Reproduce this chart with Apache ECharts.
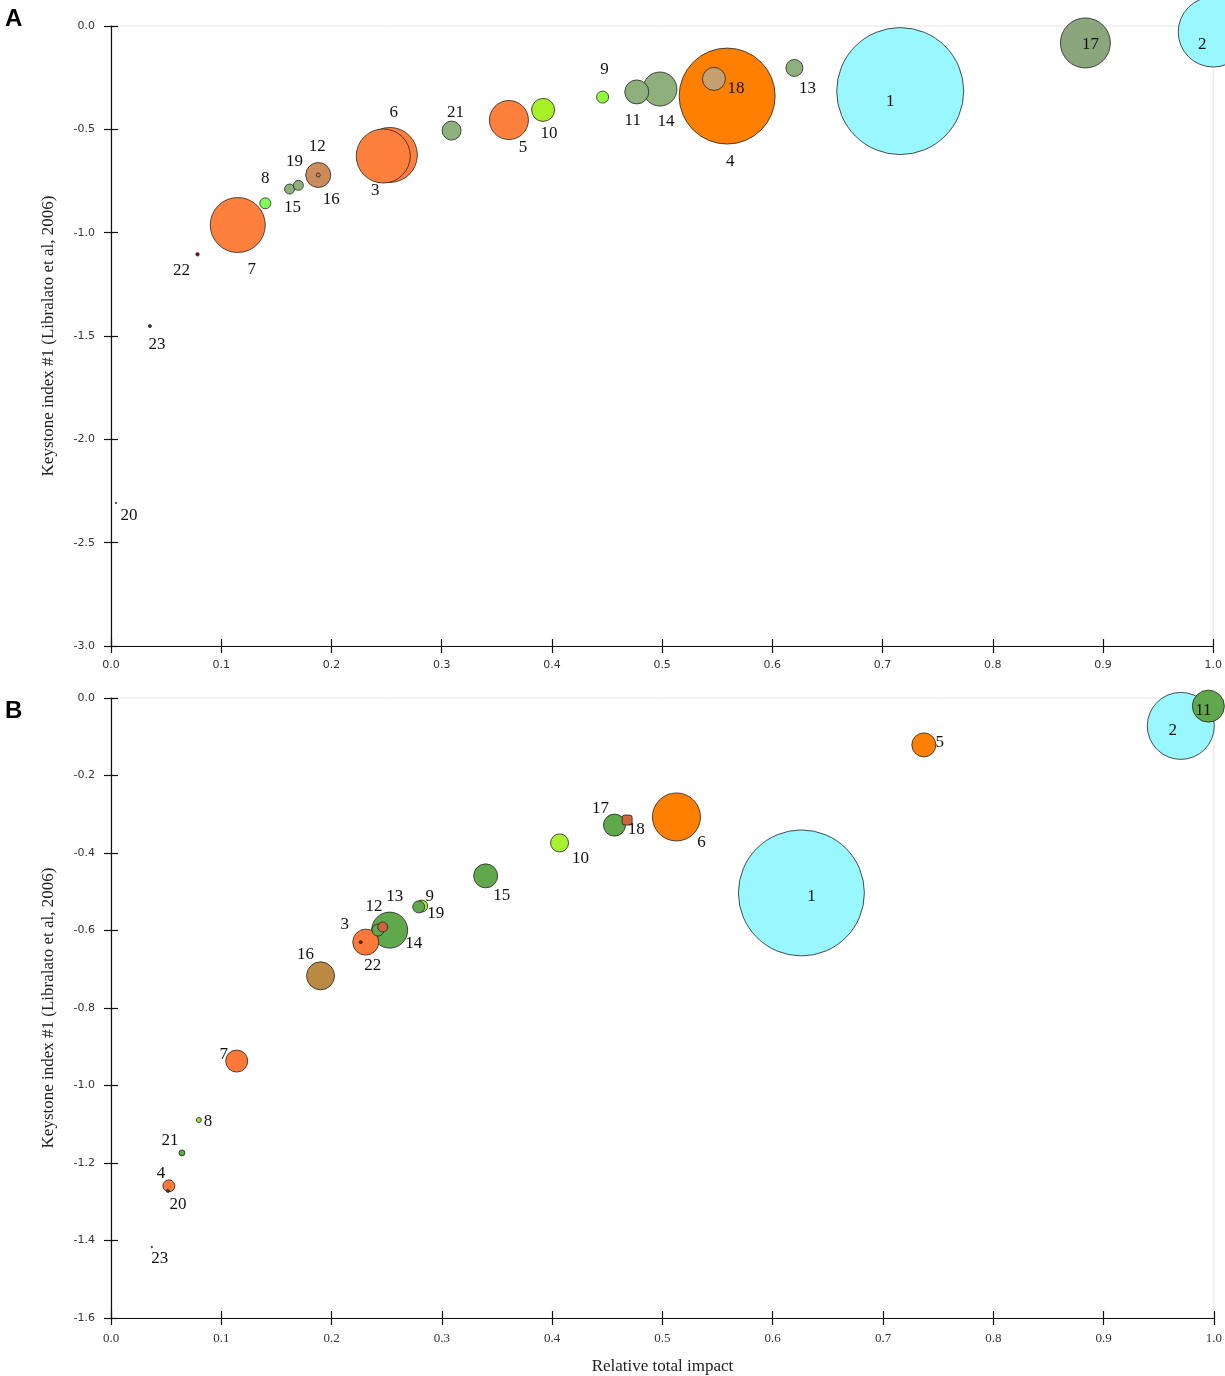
<!DOCTYPE html>
<html>
<head>
<meta charset="utf-8">
<script src="https://cdn.jsdelivr.net/npm/echarts@6/dist/echarts.min.js"></script>
<style>
  html, body { margin: 0; padding: 0; background: #fff; }
  #chart { width: 1225px; height: 1376px; }
</style>
</head>
<body>
<div id="chart"></div>
<script>
// species / functional group ids
const groups = ['1','2','3','4','5','6','7','8','9','10','11','12','13','14','15','16','17','18','19','20','21','22','23']

// panel A
const impactA = [0.716, 1.0, 0.247, 0.559, 0.361, 0.253, 0.115, 0.140, 0.446, 0.392, 0.477, 0.188, 0.620, 0.498, 0.162, 0.188, 0.884, 0.547, 0.170, 0.0045, 0.309, 0.0785, 0.0353]
const keystoneA = [-0.315, -0.029, -0.629, -0.339, -0.455, -0.624, -0.963, -0.858, -0.344, -0.406, -0.319, -0.721, -0.203, -0.305, -0.789, -0.721, -0.082, -0.256, -0.771, -2.308, -0.506, -1.105, -1.452]
const biomassA = [1.0, 0.304, 0.181, 0.571, 0.0943, 0.1875, 0.1875, 0.0075, 0.0089, 0.0328, 0.0357, 0.001, 0.0179, 0.0717, 0.0062, 0.0388, 0.155, 0.0328, 0.0062, 0.00014, 0.0224, 0.00056, 0.00056]

// panel B
const impactB = [0.626, 0.970, 0.2264, 0.0525, 0.737, 0.5127, 0.114, 0.0797, 0.2817, 0.4067, 0.995, 0.242, 0.2464, 0.2527, 0.3397, 0.190, 0.4565, 0.468, 0.279, 0.0516, 0.0643, 0.231, 0.037]
const keystoneB = [-0.503, -0.072, -0.630, -1.259, -0.121, -0.307, -0.937, -1.089, -0.537, -0.374, -0.021, -0.599, -0.591, -0.599, -0.459, -0.717, -0.328, -0.315, -0.539, -1.272, -1.174, -0.630, -1.417]
const biomassB = [0.984, 0.278, 0.00056, 0.0089, 0.0357, 0.143, 0.030, 0.00155, 0.0089, 0.0201, 0.0635, 0.0089, 0.0062, 0.0803, 0.0357, 0.0486, 0.030, 0.0062, 0.0089, 0.00056, 0.0022, 0.0419, 0.00014]

const ticksA = [0, -0.5, -1.0, -1.5, -2.0, -2.5, -3.0]
const ticksB = [0, -0.2, -0.4, -0.6, -0.8, -1.0, -1.2, -1.4, -1.6]

// styling
const colorsA = ['#99F7FF','#99F7FF','#FF803C','#FF8000','#FF803C','#FF803C','#FF803C','#80FF5A','#90FF40','#A8F028','#8DB07C','#C88A58','#8DB07C','#8DB07C','#8DB07C','#CC8C5C','#8BA57C','#C8A070','#8DB07C','#888888','#8DB07C','#7A1010','#8B1A1A']
const colorsB = ['#99F7FF','#99F7FF','#552222','#FF7A3A','#FF8000','#FF8000','#FF7A3A','#A8E030','#A8F030','#A8F030','#5FA84C','#5FA84C','#D0643C','#5FA84C','#5FA84C','#BA8A42','#5FA84C','#D0643C','#5FA84C','#444444','#5FA84C','#FF7A3A','#666666']
const nudgeA = [[-10,10],[-11,13],[-8,35],[3,65],[14,27],[4,-42],[14,45],[0,-25],[2,-28],[6,24],[-4,29],[-1,-28],[13,21],[6,32],[3,18],[13,25],[5,2],[22,10],[-4,-24],[13,13],[4,-18],[-16,16],[7,18]]
const nudgeB = [[10,4],[-8,5],[-16,-18],[-8,-12],[16,-2],[25,26],[-13,-7],[9,2],[8,-10],[21,16],[-5,4],[-4,-24],[12,-30],[24,13],[16,20],[-15,-21],[-14,-17],[9,9],[17,7],[10,14],[-12,-12],[7,23],[8,11]]
const squaresA = ['22']
const squaresB = ['18']
const maxDiameter = 127

function buildData(xs, ys, bs, colors, nudge, squares) {
  const items = groups.map((g, i) => ({
    name: g,
    value: [xs[i], ys[i], bs[i]],
    symbol: squares.includes(g) ? 'roundRect' : 'circle',
    symbolSize: Math.max(1.5, Math.sqrt(bs[i]) * maxDiameter),
    itemStyle: { color: colors[i] },
    label: { offset: nudge[i] }
  }))
  // big bubbles first so small ones sit on top
  return items.sort((a, b) => b.value[2] - a.value[2])
}

const tickFont = { fontFamily: 'DejaVu Sans', fontSize: 11, color: '#333' }
const serif = 'Liberation Serif'
const axisInk = { color: '#111', width: 1.2 }

function yAxes(gridIndex, min, interval) {
  const base = {
    gridIndex, type: 'value', min, max: 0, interval,
    splitLine: { show: false }
  }
  return [
    Object.assign({}, base, {
      name: 'Keystone index #1 (Libralato et al, 2006)',
      nameLocation: 'middle', nameGap: 54,
      nameTextStyle: { fontFamily: serif, fontSize: 17, color: '#222' },
      axisLine: { show: true, onZero: false, lineStyle: axisInk },
      axisTick: { show: true, length: 7, lineStyle: axisInk },
      axisLabel: Object.assign({ margin: 16, formatter: v => v.toFixed(1) }, tickFont)
    }),
    Object.assign({}, base, {
      position: 'left',
      axisLine: { show: false, onZero: false },
      axisTick: { show: true, inside: true, length: 7, lineStyle: axisInk },
      axisLabel: { show: false }
    })
  ]
}

function xAxes(gridIndex, withName, labelFont) {
  const base = {
    gridIndex, type: 'value', min: 0, max: 1, interval: 0.1,
    position: 'bottom',
    splitLine: { show: false }
  }
  const main = Object.assign({}, base, {
    axisLine: { show: true, onZero: false, lineStyle: axisInk },
    axisTick: { show: true, length: 7, lineStyle: axisInk },
    axisLabel: Object.assign({ margin: 14, formatter: v => v.toFixed(1) }, labelFont)
  })
  if (withName) {
    main.name = 'Relative total impact'
    main.nameLocation = 'middle'
    main.nameGap = 40
    main.nameTextStyle = { fontFamily: serif, fontSize: 17, color: '#222' }
  }
  return [main, Object.assign({}, base, {
    axisLine: { show: false, onZero: false },
    axisTick: { show: true, inside: true, length: 7, lineStyle: axisInk },
    axisLabel: { show: false }
  })]
}

function bubbleSeries(xi, yi, data) {
  return {
    type: 'scatter', xAxisIndex: xi, yAxisIndex: yi, clip: true,
    data,
    itemStyle: { borderColor: '#222', borderWidth: 0.8, opacity: 1 },
    label: {
      show: true, position: 'inside', formatter: p => p.name,
      fontFamily: serif, fontSize: 17, color: '#111'
    },
    emphasis: { disabled: true }
  }
}

const chart = echarts.init(document.getElementById('chart'))
chart.setOption({
  backgroundColor: '#fff',
  animation: false,
  title: [
    { text: 'A', left: 0, top: 2, textStyle: { fontFamily: 'Liberation Sans', fontSize: 24, fontWeight: 'bold', color: '#000' } },
    { text: 'B', left: 0, top: 694, textStyle: { fontFamily: 'Liberation Sans', fontSize: 24, fontWeight: 'bold', color: '#000' } }
  ],
  grid: [
    { left: 111, top: 26, width: 1104, height: 620, show: true, borderColor: '#e6e6e6', borderWidth: 1 },
    { left: 111, top: 698, width: 1104, height: 620, show: true, borderColor: '#e6e6e6', borderWidth: 1 }
  ],
  xAxis: [
    ...xAxes(0, false, tickFont),
    ...xAxes(1, true, { fontFamily: serif, fontSize: 13, color: '#333' })
  ],
  yAxis: [
    ...yAxes(0, ticksA[ticksA.length - 1], 0.5),
    ...yAxes(1, ticksB[ticksB.length - 1], 0.2)
  ],
  series: [
    bubbleSeries(0, 0, buildData(impactA, keystoneA, biomassA, colorsA, nudgeA, squaresA)),
    bubbleSeries(2, 2, buildData(impactB, keystoneB, biomassB, colorsB, nudgeB, squaresB))
  ]
})
</script>
</body>
</html>
